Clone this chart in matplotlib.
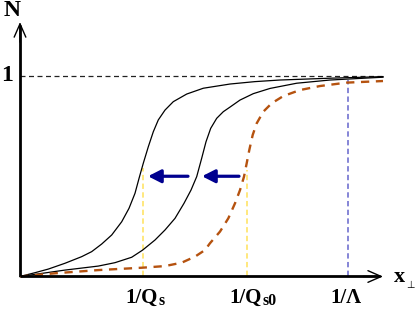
import matplotlib
matplotlib.use('Agg')
import matplotlib.pyplot as plt

# ── Data (x in arbitrary transverse-size units, N normalised to 1) ─────────────
x_qs = [0, 15, 28.3, 45, 61.7, 71.7, 81.7, 91.7, 101.7, 109, 115, 119.5, 123.3,
        128.3, 133.3, 138.3, 145, 153.3, 166.7, 183.3, 210, 235, 260, 310, 363]
n_qs = [0, 0.019, 0.037, 0.066, 0.099, 0.124, 0.162, 0.207, 0.273, 0.340, 0.415,
        0.498, 0.565, 0.647, 0.722, 0.781, 0.830, 0.872, 0.910, 0.939, 0.960,
        0.972, 0.980, 0.989, 0.997]

x_mid = [0, 45, 78.3, 95, 111.7, 122.7, 135, 145, 155, 164, 171, 176.7, 181.7,
         186, 190.7, 196.7, 203.3, 210, 220, 233.3, 250, 276.7, 310, 363]
n_mid = [0, 0.032, 0.052, 0.069, 0.096, 0.132, 0.182, 0.232, 0.290, 0.365, 0.431,
         0.498, 0.590, 0.672, 0.739, 0.789, 0.822, 0.845, 0.880, 0.912, 0.938,
         0.964, 0.980, 0.994]

x_qs0 = [0, 35, 78.3, 122.7, 145, 161.7, 175, 185, 190, 200, 208.3, 215, 220,
         224, 226.7, 229.3, 232.7, 236.7, 243.3, 251.7, 263.3, 280, 300, 326.7, 363]
n_qs0 = [0, 0.016, 0.032, 0.044, 0.052, 0.069, 0.099, 0.132, 0.166, 0.224, 0.290,
         0.365, 0.431, 0.498, 0.565, 0.631, 0.706, 0.764, 0.822, 0.864, 0.900,
         0.930, 0.950, 0.967, 0.975]

mark_x     = [123, 227, 327.5]            # 1/Qs, 1/Qs0, 1/Lambda
mark_top   = [0.54, 0.53, 0.98]
mark_color = ['#ffe15a', '#ffe15a', '#6464cc']
mark_main  = ['1/Q', '1/Q', '1/\u039b']
mark_sub   = ['s', 's0', '']

arrow_tail = [168, 219]
arrow_tip  = [128, 182]
arrow_n    = 0.5

saturation = 1.0
x_end      = 363        # tip of the x axis
n_end      = 1.269      # tip of the N axis
sat_end    = 365

SERIF = 'Liberation Serif'

fig = plt.figure(figsize=(4.15, 3.10), dpi=100)
ax = fig.add_axes([0, 0, 1, 1])
ax.set_xlim(-20, 395)
ax.set_ylim(-0.1671, 1.3791)
ax.axis('off')

# saturation line
ax.plot([0, sat_end], [saturation, saturation], color='#222222', lw=0.9,
        dashes=(4, 2.8))

# vertical markers
for xv, top, c in zip(mark_x, mark_top, mark_color):
    ax.plot([xv, xv], [0, top], color=c, lw=1.1, dashes=(3.5, 2.2), zorder=1)

# curves
ax.plot(x_qs, n_qs, color='black', lw=0.9, zorder=3)
ax.plot(x_mid, n_mid, color='black', lw=0.9, zorder=3)
ax.plot(x_qs0, n_qs0, color='#b5520f', lw=1.7, dashes=(3.5, 2.8), zorder=3)

# evolution arrows
for t0, t1 in zip(arrow_tail, arrow_tip):
    ax.annotate('', xy=(t1, arrow_n), xytext=(t0, arrow_n),
                arrowprops=dict(arrowstyle='-|>,head_length=0.55,head_width=0.28',
                                mutation_scale=14, lw=2.3, color='#00008f',
                                shrinkA=0, shrinkB=0), zorder=4)

# axes with open arrowheads
ax.plot([0, x_end - 3], [0, 0], color='black', lw=2.0, solid_capstyle='butt', zorder=5)
ax.plot([0, 0], [0, n_end - 0.015], color='black', lw=2.0, solid_capstyle='butt', zorder=5)
for tip, tail in [((x_end, 0), (x_end - 20, 0)), ((0, n_end), (0, n_end - 0.1))]:
    ax.annotate('', xy=tip, xytext=tail,
                arrowprops=dict(arrowstyle='->,head_length=0.8,head_width=0.35',
                                mutation_scale=12, lw=1.0, color='black',
                                shrinkA=0, shrinkB=0), zorder=5)

# axis labels
ax.text(-8.3, 1.327, 'N', family=SERIF, weight='bold', fontsize=17,
        ha='center', va='center')
ax.text(-13, 1.003, '1', family=SERIF, weight='bold', fontsize=17,
        ha='center', va='center')
ax.text(374, -0.027, 'x', family=SERIF, weight='bold', fontsize=16,
        ha='left', va='baseline')
ax.text(386, -0.057, '\u22a5', family=['DejaVu Sans'], fontsize=7,
        ha='left', va='baseline')

# scale labels under the axis, subscript placed after the main text
renderer = fig.canvas.get_renderer()
for xv, main, sub in zip(mark_x, mark_main, mark_sub):
    t = ax.text(xv - 1.5, -0.132, main, family=SERIF, weight='bold', fontsize=15,
                ha='center', va='baseline')
    if sub:
        bb = t.get_window_extent(renderer=renderer)
        x_right = ax.transData.inverted().transform((bb.x1, bb.y0))[0]
        ax.text(x_right + 0.5, -0.143, sub, family=SERIF, weight='bold',
                fontsize=11.5, ha='left', va='baseline')

fig.savefig('out.png', dpi=100, facecolor='white')
